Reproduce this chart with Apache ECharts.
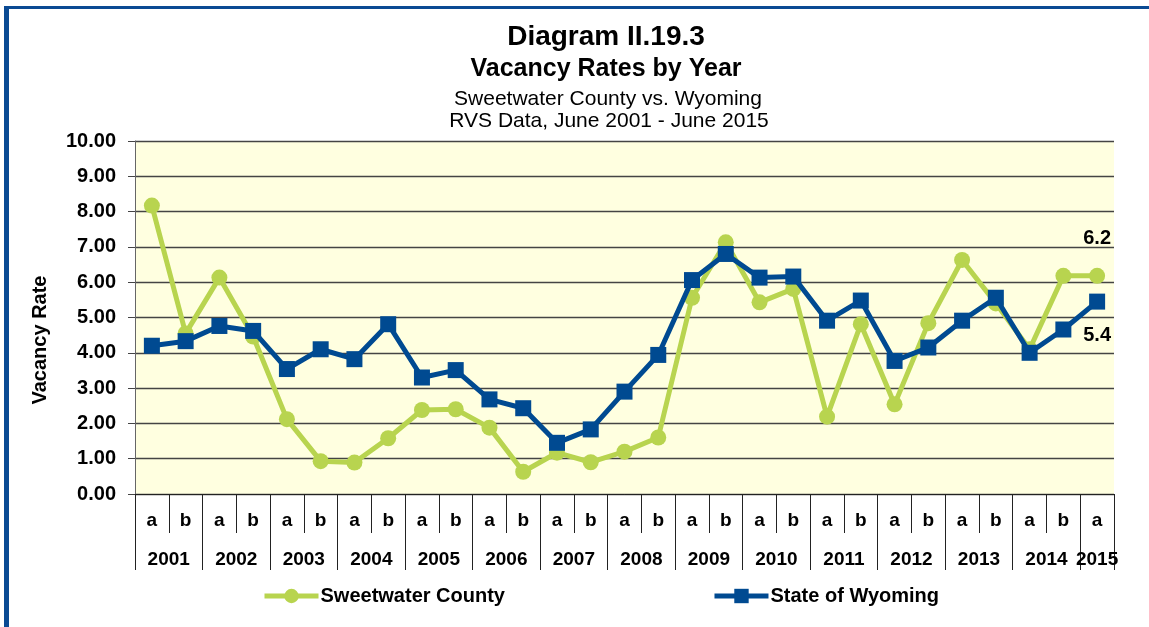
<!DOCTYPE html>
<html>
<head>
<meta charset="utf-8">
<script src="https://cdn.jsdelivr.net/npm/echarts@6/dist/echarts.min.js"></script>
<style>
html,body{margin:0;padding:0;background:#fff;}
#chart{width:1149px;height:627px;}
</style>
</head>
<body>
<div id="chart"></div>
<script>
// ---- data ----
var years = ['2001','2002','2003','2004','2005','2006','2007','2008','2009','2010','2011','2012','2013','2014','2015'];
var halves = ['a','b','a','b','a','b','a','b','a','b','a','b','a','b','a','b','a','b','a','b','a','b','a','b','a','b','a','b','a'];
var sweetwater = [8.17,4.55,6.13,4.46,2.12,0.93,0.89,1.58,2.38,2.40,1.88,0.63,1.17,0.90,1.20,1.60,5.56,7.13,5.43,5.81,2.19,4.81,2.54,4.84,6.63,5.40,4.10,6.18,6.18];
var wyoming = [4.20,4.33,4.76,4.62,3.54,4.10,3.82,4.81,3.30,3.51,2.68,2.43,1.45,1.83,2.90,3.94,6.06,6.80,6.13,6.16,4.91,5.48,3.77,4.15,4.91,5.56,4.00,4.66,5.45];
var lastLabels = ['6.2','5.4'];
var yTicks = [0,1,2,3,4,5,6,7,8,9,10];

var FONT = "'Liberation Sans', Arial, sans-serif";
var GREEN = '#b8d44f';
var BLUE = '#004a91';

// year row: half-band positions (boundaryGap false), labels centred on each year
var n = halves.length;
var yearRow = [];
for (var k = 0; k <= 2 * n; k++) yearRow.push('');
for (var i = 0; i < years.length; i++) {
  var pos = (i < years.length - 1) ? 4 * i + 2 : 4 * i + 1;
  yearRow[pos] = years[i];
}

function buildData(vals, label, pos, off) {
  return vals.map(function (v, idx) {
    if (idx === vals.length - 1) {
      return {value: v, label: {show: true, position: pos, offset: off,
        formatter: label, fontFamily: FONT, fontWeight: 'bold', fontSize: 20, color: '#000'}};
    }
    return v;
  });
}

var chart = echarts.init(document.getElementById('chart'), null, {renderer: 'canvas'});
chart.setOption({
  backgroundColor: '#fff',
  animation: false,
  title: [
    {text: 'Diagram II.19.3', left: 601, top: 18, textAlign: 'center',
     textStyle: {fontFamily: FONT, fontWeight: 'bold', fontSize: 28, color: '#000'}},
    {text: 'Vacancy Rates by Year', left: 601, top: 52, textAlign: 'center',
     textStyle: {fontFamily: FONT, fontWeight: 'bold', fontSize: 25, color: '#000'}},
    {text: 'Sweetwater County vs. Wyoming', left: 603, top: 84, textAlign: 'center',
     textStyle: {fontFamily: FONT, fontWeight: 'normal', fontSize: 21, color: '#000'}},
    {text: 'RVS Data, June 2001 - June 2015', left: 604, top: 106, textAlign: 'center',
     textStyle: {fontFamily: FONT, fontWeight: 'normal', fontSize: 21, color: '#000'}}
  ],
  graphic: [
    {type: 'rect', shape: {x: 4, y: 6, width: 5, height: 640}, style: {fill: '#0a4a93'}, silent: true},
    {type: 'rect', shape: {x: 4, y: 6, width: 1160, height: 3}, style: {fill: '#0a4a93'}, silent: true}
  ],
  legend: {
    left: 262, top: 586, padding: 0,
    itemWidth: 54, itemHeight: 18, itemGap: 207,
    lineStyle: {width: 5},
    textStyle: {fontFamily: FONT, fontWeight: 'bold', fontSize: 20, color: '#000', padding: [0,0,0,-3]},
    data: ['Sweetwater County', 'State of Wyoming']
  },
  grid: {left: 135, right: 35, top: 141, bottom: 133, show: true,
    backgroundColor: '#ffffe0', borderWidth: 0, containLabel: false},
  xAxis: [
    {type: 'category', data: halves, boundaryGap: true, position: 'bottom',
     axisLine: {show: true, lineStyle: {color: '#222', width: 1}},
     axisTick: {show: true, length: 39, lineStyle: {color: '#222', width: 1}},
     axisLabel: {interval: 0, margin: 17, fontFamily: FONT, fontWeight: 'bold', fontSize: 19, color: '#000'},
     splitLine: {show: false}},
    {type: 'category', data: yearRow, boundaryGap: false, position: 'bottom',
     axisLine: {show: false},
     axisTick: {show: true, length: 76, interval: function (idx) { return idx % 4 === 0 || idx === 2 * n; },
       lineStyle: {color: '#222', width: 1}},
     axisLabel: {interval: 0, margin: 56, fontFamily: FONT, fontWeight: 'bold', fontSize: 19, color: '#000'},
     splitLine: {show: false}}
  ],
  yAxis: {
    type: 'value', min: yTicks[0], max: yTicks[yTicks.length - 1], interval: 1,
    name: 'Vacancy Rate', nameLocation: 'middle', nameGap: 85, nameRotate: 90,
    nameTextStyle: {fontFamily: FONT, fontWeight: 'bold', fontSize: 20, color: '#000', padding: [0, 45, 0, 0]},
    axisLine: {show: true, lineStyle: {color: '#666', width: 1}},
    axisTick: {show: true, length: 7, lineStyle: {color: '#444'}},
    axisLabel: {margin: 19, fontFamily: FONT, fontWeight: 'bold', fontSize: 20, color: '#000',
      formatter: function (v) { return v.toFixed(2); }},
    splitLine: {show: true, lineStyle: {color: '#444', width: 1.3}}
  },
  series: [
    {name: 'Sweetwater County', type: 'line', xAxisIndex: 0,
     data: buildData(sweetwater, lastLabels[0], 'top', [0, -14]),
     symbol: 'circle', symbolSize: 16,
     lineStyle: {color: GREEN, width: 5}, itemStyle: {color: GREEN}, z: 2},
    {name: 'State of Wyoming', type: 'line', xAxisIndex: 0,
     data: buildData(wyoming, lastLabels[1], 'bottom', [0, 11]),
     symbol: 'rect', symbolSize: 16,
     lineStyle: {color: BLUE, width: 5}, itemStyle: {color: BLUE}, z: 3}
  ]
});
</script>
</body>
</html>
